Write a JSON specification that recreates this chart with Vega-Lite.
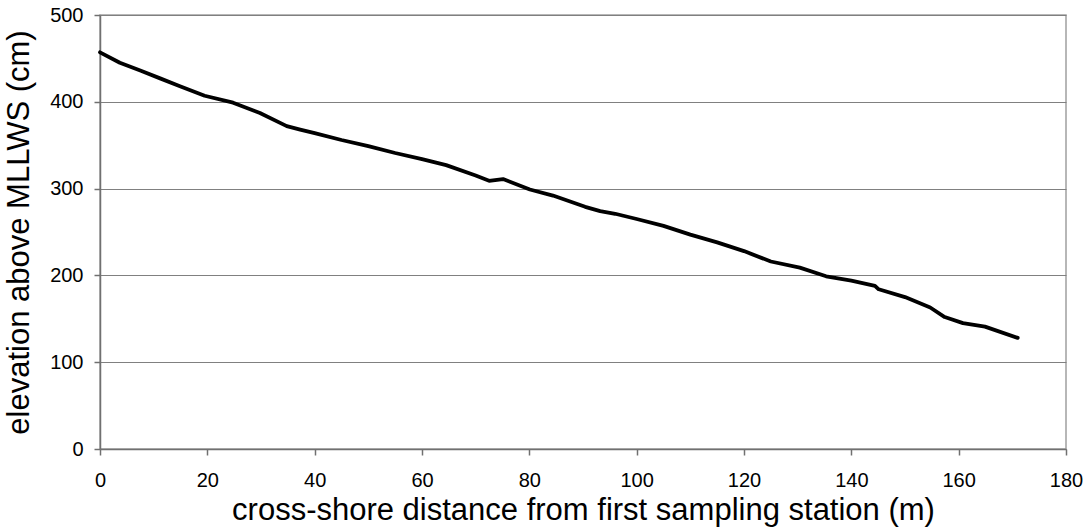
{
  "$schema": "https://vega.github.io/schema/vega-lite/v6.json",
  "autosize": {"type": "none"},
  "width": 966,
  "height": 434,
  "padding": {"left": 100, "top": 15, "right": 22, "bottom": 82},
  "background": "white",
  "config": {
    "font": "Liberation Sans",
    "view": {"stroke": "#a0a0a0", "strokeWidth": 1.5},
    "axis": {
      "labelFont": "Liberation Sans",
      "titleFont": "Liberation Sans",
      "labelFontSize": 20,
      "titleFontSize": 31,
      "titleFontWeight": "normal",
      "labelColor": "black",
      "titleColor": "black",
      "domainColor": "#707070",
      "domainWidth": 1.5,
      "tickColor": "#707070",
      "tickWidth": 1.5,
      "tickSize": 6,
      "gridColor": "#808080",
      "gridWidth": 1
    }
  },
  "data": {
    "values": [
      {"d": 0, "e": 457},
      {"d": 3.7, "e": 445},
      {"d": 7.5, "e": 436},
      {"d": 11.2, "e": 427},
      {"d": 14.9, "e": 418},
      {"d": 19.5, "e": 407},
      {"d": 24.8, "e": 399},
      {"d": 29.8, "e": 387},
      {"d": 34.8, "e": 372},
      {"d": 37.3, "e": 368},
      {"d": 40, "e": 364},
      {"d": 45, "e": 356},
      {"d": 50, "e": 349},
      {"d": 55, "e": 341},
      {"d": 60, "e": 334},
      {"d": 64.5, "e": 327},
      {"d": 70, "e": 315},
      {"d": 72.5, "e": 309},
      {"d": 75.1, "e": 311},
      {"d": 80.1, "e": 299},
      {"d": 84.4, "e": 292},
      {"d": 90.4, "e": 279},
      {"d": 93.2, "e": 274},
      {"d": 96, "e": 271},
      {"d": 100, "e": 265},
      {"d": 105, "e": 257},
      {"d": 110, "e": 247},
      {"d": 115, "e": 238},
      {"d": 120, "e": 228},
      {"d": 125, "e": 216},
      {"d": 130.4, "e": 209},
      {"d": 135.3, "e": 199},
      {"d": 140, "e": 194},
      {"d": 144.4, "e": 188},
      {"d": 145.1, "e": 184},
      {"d": 150, "e": 175},
      {"d": 154.7, "e": 163},
      {"d": 157.4, "e": 152},
      {"d": 160.8, "e": 145},
      {"d": 164.9, "e": 141},
      {"d": 171, "e": 128}
    ]
  },
  "mark": {"type": "line", "color": "black", "strokeWidth": 3.8, "strokeJoin": "round", "strokeCap": "round"},
  "encoding": {
    "x": {
      "field": "d",
      "type": "quantitative",
      "scale": {"domain": [0, 180], "nice": false, "zero": false},
      "axis": {
        "title": "cross-shore distance from first sampling station (m)",
        "values": [0, 20, 40, 60, 80, 100, 120, 140, 160, 180],
        "grid": false,
        "labelPadding": 15,
        "titlePadding": 5,
        "labelFlush": false
      }
    },
    "y": {
      "field": "e",
      "type": "quantitative",
      "scale": {"domain": [0, 500], "nice": false},
      "axis": {
        "title": "elevation above MLLWS (cm)",
        "values": [0, 100, 200, 300, 400, 500],
        "grid": true,
        "labelPadding": 11,
        "titlePadding": 14,
        "labelFlush": false
      }
    }
  }
}
